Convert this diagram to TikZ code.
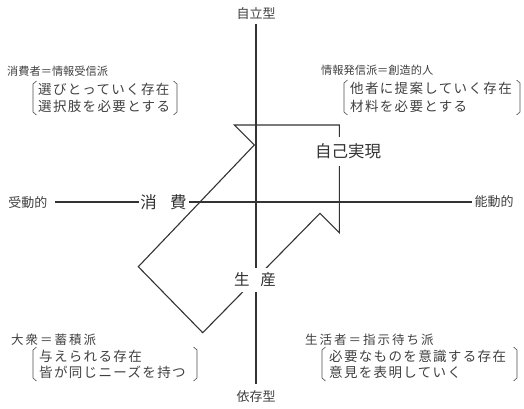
\documentclass[tikz,border=0pt]{standalone}
\usepackage{fontspec}
\newfontfamily\jp{Noto Sans CJK JP}
\newfontfamily\jpH{Noto Sans CJK JP}[LetterSpace=16]
\newfontfamily\jpL{Noto Sans CJK JP}[LetterSpace=10]
\newcommand\lbrk[3]{\draw[brk] (#1+3.5,#2) -- (#1,#2+3) -- (#1,#3-3) -- (#1+3.5,#3);}
\newcommand\rbrk[3]{\draw[brk] (#1-3.5,#2) -- (#1,#2+3) -- (#1,#3-3) -- (#1-3.5,#3);}
\tikzset{
  axis/.style={line width=1.1pt, draw=black!80},
  arrowline/.style={line width=1.1pt, draw=black!80, line join=miter},
  brk/.style={line width=0.6pt, draw=black!70},
  txt/.style={inner sep=0pt, text=black!75},
  axlab/.style={txt, font=\jp\fontsize{13}{15}\selectfont},
  head/.style={txt, anchor=west},
  gapbox/.style={fill=white, inner sep=0pt, text=black!80}
}
\begin{document}
\begin{tikzpicture}[x=1pt,y=-1pt]
\useasboundingbox (0,0) rectangle (524,409);
% axes
\draw[axis] (256,24) -- (256,384);
\draw[axis] (55,202) -- (471.7,202);
% arrow outline
\coordinate (A) at (234.3,125);
\coordinate (B) at (339.3,125);
\coordinate (C) at (339.3,232.7);
\coordinate (D) at (320,213.3);
\coordinate (E) at (202.7,332.7);
\coordinate (F) at (138.3,266.7);
\coordinate (G) at (254.3,145);
\draw[arrowline] (A) -- (B) -- (C) -- (D) -- (E) -- (F) -- (G) -- cycle;
% labels that interrupt lines
\node[gapbox, minimum width=74pt, minimum height=29pt, font=\jp\fontsize{16.5}{18}\selectfont] (jiko) at (348,151.5) {自己実現};
\node[gapbox, minimum width=50pt, minimum height=18pt, font=\jp\fontsize{16.5}{18}\selectfont] (shohi) at (163.5,202.5) {消\hspace{13.5pt}費};
\node[gapbox, minimum width=44pt, minimum height=24pt, font=\jp\fontsize{15.5}{17}\selectfont] (seisan) at (255,280) {生\hspace{10.8pt}産};
% axis labels
\node[axlab] (top) at (256,14) {自立型};
\node[axlab] (bot) at (256,397) {依存型};
\node[axlab] (left) at (28,203) {受動的};
\node[axlab] (right) at (494,202) {能動的};
% top-left
\node[head, font=\jp\fontsize{11.2}{13}\selectfont] (tlh) at (7,71) {消費者＝情報受信派};
\node[head, font=\jpL\fontsize{13.5}{15}\selectfont] (tl1) at (38,89) {選びとっていく存在};
\node[head, font=\jpL\fontsize{13.5}{15}\selectfont] (tl2) at (38,106) {選択肢を必要とする};
\lbrk{33}{81}{115}
\rbrk{177}{81}{115}
% top-right
\node[head, font=\jp\fontsize{11.2}{13}\selectfont] (trh) at (321,70) {情報発信派＝創造的人};
\node[head, font=\jpL\fontsize{13.5}{15}\selectfont] (tr1) at (350,88) {他者に提案していく存在};
\node[head, font=\jpL\fontsize{13.5}{15}\selectfont] (tr2) at (350,106) {材料を必要とする};
\lbrk{344}{80}{115}
\rbrk{520}{80}{115}
% bottom-left
\node[head, font=\jpH\fontsize{12.5}{14}\selectfont] (blh) at (11,340) {大衆＝蓄積派};
\node[head, font=\jpL\fontsize{13.5}{15}\selectfont] (bl1) at (39,356) {与えられる存在};
\node[head, font=\jpL\fontsize{13.5}{15}\selectfont] (bl2) at (39,372) {皆が同じニーズを持つ};
\lbrk{33}{347}{381}
\rbrk{197}{347}{381}
% bottom-right
\node[head, font=\jpH\fontsize{12.5}{14}\selectfont] (brh) at (305,340) {生活者＝指示待ち派};
\node[head, font=\jpL\fontsize{13.5}{15}\selectfont] (br1) at (329,356) {必要なものを意識する存在};
\node[head, font=\jpL\fontsize{13.5}{15}\selectfont] (br2) at (329,372) {意見を表明していく};
\lbrk{322}{347}{381}
\rbrk{517}{347}{381}
\end{tikzpicture}
\end{document}
